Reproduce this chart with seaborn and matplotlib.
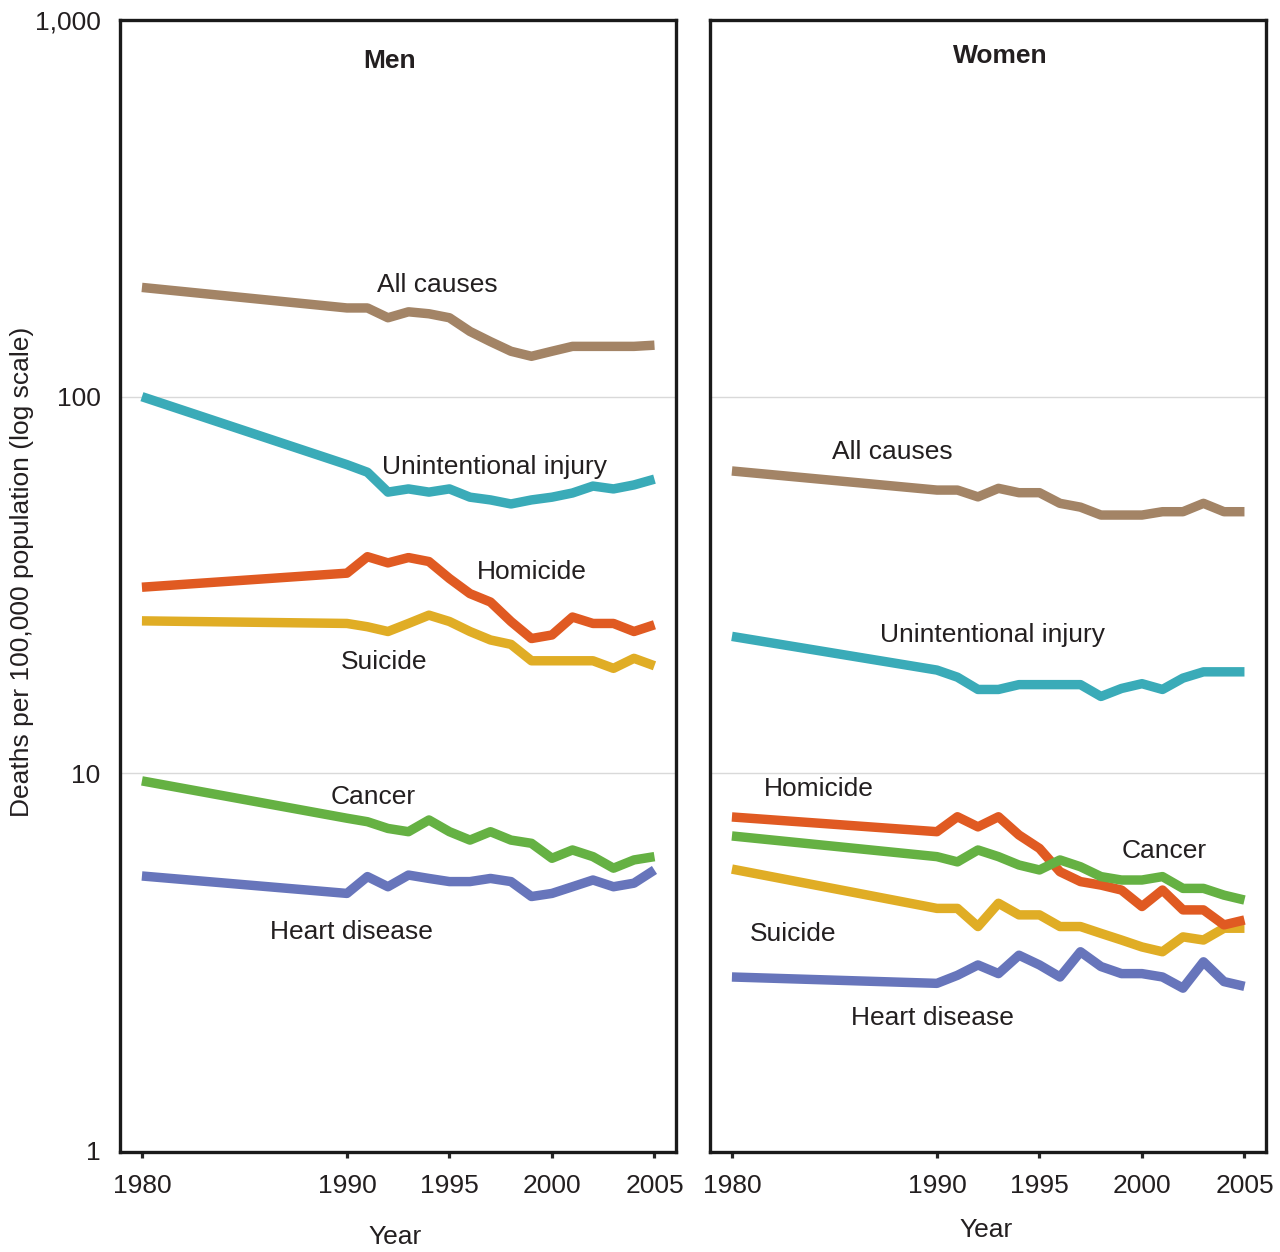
import matplotlib
matplotlib.use("Agg")
import matplotlib.pyplot as plt
import seaborn as sns
import pandas as pd

# values, years 1980 then 1990-2005
years = [1980, 1990, 1991, 1992, 1993, 1994, 1995, 1996, 1997, 1998, 1999, 2000, 2001, 2002, 2003, 2004, 2005]

men_all = [195, 172, 172, 162, 168, 166, 162, 149, 140, 132, 128, 132, 136, 136, 136, 136, 137]
men_injury = [100, 66, 63, 55.8, 56.9, 55.8, 56.9, 54.1, 53.2, 51.9, 53.2, 54.1, 55.5, 57.9, 56.9, 58.3, 60.4]
men_suicide = [25.4, 25.0, 24.5, 23.8, 25.0, 26.3, 25.3, 23.8, 22.6, 22.0, 19.9, 19.9, 19.9, 19.9, 19.0, 20.2, 19.3]
men_homicide = [31.2, 34.0, 37.6, 36.2, 37.4, 36.5, 32.9, 30.0, 28.5, 25.3, 22.8, 23.3, 26.0, 25.0, 25.0, 23.8, 24.8]
men_cancer = [9.55, 7.6, 7.44, 7.14, 7.0, 7.52, 7.0, 6.65, 7.0, 6.65, 6.52, 5.95, 6.26, 6.01, 5.6, 5.89, 6.01]
men_heart = [5.34, 4.8, 5.32, 5.0, 5.37, 5.26, 5.16, 5.16, 5.26, 5.16, 4.71, 4.8, 5.0, 5.21, 5.0, 5.11, 5.54]

women_all = [63.5, 56.5, 56.5, 54.2, 57.1, 55.6, 55.6, 52.1, 50.9, 48.5, 48.5, 48.5, 49.5, 49.5, 52.1, 49.5, 49.5]
women_injury = [23.1, 18.8, 18.0, 16.7, 16.7, 17.2, 17.2, 17.2, 17.2, 16.0, 16.8, 17.3, 16.7, 17.9, 18.6, 18.6, 18.6]
women_suicide = [5.57, 4.38, 4.38, 3.92, 4.52, 4.21, 4.21, 3.92, 3.92, 3.76, 3.61, 3.46, 3.36, 3.68, 3.61, 3.88, 3.88]
women_homicide = [7.66, 7.0, 7.67, 7.21, 7.67, 6.86, 6.32, 5.48, 5.16, 5.05, 4.9, 4.43, 4.9, 4.34, 4.34, 3.96, 4.08]
women_cancer = [6.82, 6.01, 5.82, 6.26, 6.01, 5.71, 5.54, 5.89, 5.65, 5.32, 5.21, 5.21, 5.32, 4.95, 4.95, 4.75, 4.61]
women_heart = [2.88, 2.77, 2.91, 3.10, 2.94, 3.29, 3.10, 2.88, 3.36, 3.07, 2.94, 2.94, 2.88, 2.69, 3.16, 2.80, 2.72]

causes = ["All causes", "Unintentional injury", "Suicide", "Homicide", "Cancer", "Heart disease"]
colors = ["#a38466", "#3aabb8", "#e0ad25", "#e05a22", "#65b143", "#6775bb"]

ytick_vals = [1, 10, 100, 1000]
ytick_labels = ["1", "10", "100", "1,000"]
xtick_vals = [1980, 1990, 1995, 2000, 2005]

# where the line names go (data coords)
men_label_pos = {
    "All causes": (1994.4, 198),
    "Unintentional injury": (1997.2, 65),
    "Homicide": (1999.0, 34.2),
    "Suicide": (1991.8, 19.8),
    "Cancer": (1991.3, 8.65),
    "Heart disease": (1990.2, 3.79),
}
women_label_pos = {
    "All causes": (1987.8, 71.3),
    "Unintentional injury": (1992.7, 23.3),
    "Homicide": (1984.25, 9.09),
    "Cancer": (2001.1, 6.22),
    "Suicide": (1983.0, 3.74),
    "Heart disease": (1989.8, 2.24),
}

txt_color = "#231f20"
fs = 19


def make_df(series):
    rows = []
    for cause, vals in zip(causes, series):
        for yr, v in zip(years, vals):
            rows.append({"Year": yr, "Rate": v, "Cause": cause})
    return pd.DataFrame(rows)


men_df = make_df([men_all, men_injury, men_suicide, men_homicide, men_cancer, men_heart])
women_df = make_df([women_all, women_injury, women_suicide, women_homicide, women_cancer, women_heart])

sns.set_style("white")
plt.rcParams["font.family"] = ["Liberation Sans", "DejaVu Sans"]

fig = plt.figure(figsize=(12.8, 12.52), dpi=100)
ax1 = fig.add_axes([120 / 1280, 1 - 1152 / 1252, 556 / 1280, 1132 / 1252])
ax2 = fig.add_axes([710 / 1280, 1 - 1152 / 1252, 556 / 1280, 1132 / 1252])

for ax, df, pos, title, tx, ty in [(ax1, men_df, men_label_pos, "Men", 0.4856, 0.964),
                                   (ax2, women_df, women_label_pos, "Women", 0.5216, 0.968)]:
    ax.set_yscale("log")
    for yv in [10, 100]:
        ax.axhline(yv, color="#d9d9d9", lw=1, zorder=0)
    sns.lineplot(data=df, x="Year", y="Rate", hue="Cause", hue_order=causes,
                 palette=colors, lw=6.8, legend=False, ax=ax, solid_capstyle="butt")
    ax.set_xlim(1978.93, 2006.05)
    ax.set_ylim(0.988, 1000)
    ax.set_xticks(xtick_vals)
    ax.set_xticklabels([str(x) for x in xtick_vals], fontsize=fs, color=txt_color)
    ax.tick_params(axis="x", direction="out", length=4, width=2.3, pad=12, bottom=True)
    ax.minorticks_off()
    ax.set_xlabel("")
    ax.set_ylabel("")
    for s in ax.spines.values():
        s.set_linewidth(2.4)
        s.set_color("#1a1a1a")
    for name, (x, y) in pos.items():
        ax.text(x, y, name, fontsize=fs, ha="center", va="center", color=txt_color)
    ax.text(tx, ty, title, transform=ax.transAxes, fontsize=fs, fontweight="bold",
            ha="center", va="center", color=txt_color)

ax1.set_yticks(ytick_vals)
ax1.set_yticklabels(ytick_labels, fontsize=fs, color=txt_color)
ax1.tick_params(axis="y", length=0, pad=14)
ax1.minorticks_off()
ax2.set_yticks(ytick_vals)
ax2.set_yticklabels([])
ax2.tick_params(axis="y", length=0)
ax2.minorticks_off()

fig.text(22 / 1280, 1 - 572 / 1252, "Deaths per 100,000 population (log scale)", rotation=90,
         fontsize=fs, ha="center", va="center", color=txt_color)
fig.text(395 / 1280, 1 - 1237 / 1252, "Year", fontsize=fs, ha="center", va="center", color=txt_color)
fig.text(986 / 1280, 1 - 1230 / 1252, "Year", fontsize=fs, ha="center", va="center", color=txt_color)

fig.savefig("out.png", dpi=100)
